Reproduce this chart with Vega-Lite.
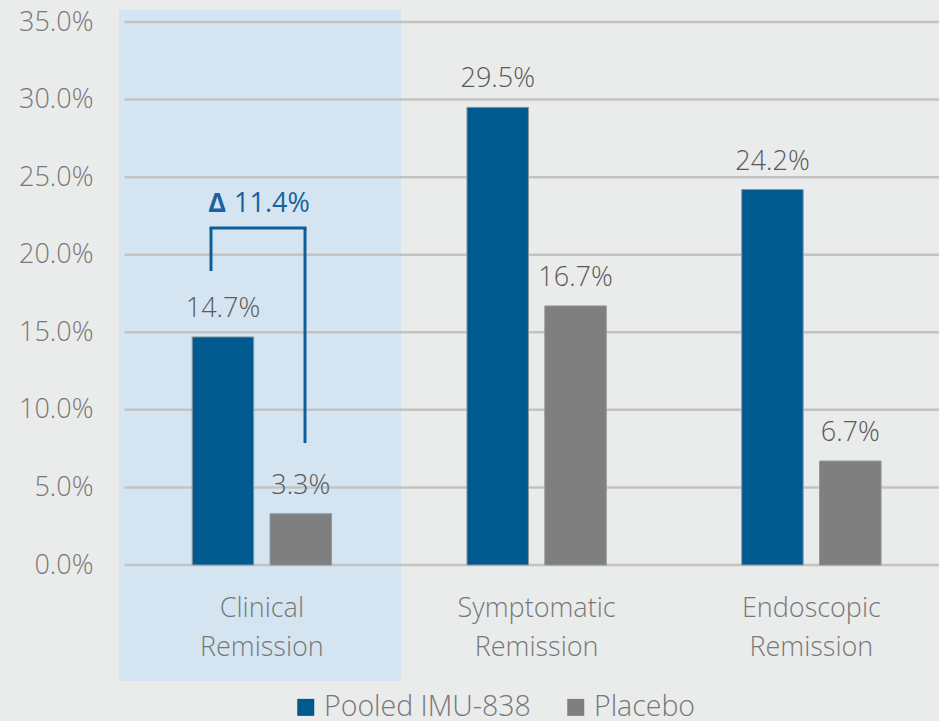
{
  "$schema": "https://vega.github.io/schema/vega-lite/v6.json",
  "width": 814.5,
  "height": 543,
  "autosize": {"type": "none"},
  "padding": {"left": 124.5, "top": 22, "right": 0, "bottom": 156},
  "background": "#eaebeb",
  "config": {"view": {"stroke": null}, "font": "Open Sans"},
  "datasets": {
    "bars": [
      {"category": "Clinical Remission", "group": "Pooled IMU-838", "value": 0.147},
      {"category": "Clinical Remission", "group": "Placebo", "value": 0.033},
      {"category": "Symptomatic Remission", "group": "Pooled IMU-838", "value": 0.295},
      {"category": "Symptomatic Remission", "group": "Placebo", "value": 0.167},
      {"category": "Endoscopic Remission", "group": "Pooled IMU-838", "value": 0.242},
      {"category": "Endoscopic Remission", "group": "Placebo", "value": 0.067}
    ],
    "grid": [
      {"value": 0}, {"value": 0.05}, {"value": 0.1}, {"value": 0.15},
      {"value": 0.2}, {"value": 0.25}, {"value": 0.3}, {"value": 0.35}
    ],
    "annot": [{"delta": "11.4%"}]
  },
  "layer": [
    {
      "data": {"name": "annot"},
      "mark": {"type": "rect", "color": "#d4e5f1", "clip": false},
      "encoding": {
        "x": {"datum": "Clinical Remission", "type": "nominal", "bandPosition": -0.02,
          "scale": {"domain": ["Clinical Remission", "Symptomatic Remission", "Endoscopic Remission"], "range": [0, 824.25], "paddingInner": 0, "paddingOuter": 0},
          "axis": {"orient": "bottom", "labelExpr": "split(datum.label, ' ')", "labelFontSize": 27, "labelLineHeight": 39, "labelPadding": 30, "labelFontWeight": 300, "labelColor": "#787878", "labelAngle": 0, "domain": false, "ticks": false, "grid": false, "title": null}},
        "x2": {"datum": "Clinical Remission", "bandPosition": 1.0064},
        "y": {"datum": 0.358, "type": "quantitative", "scale": {"domain": [0, 0.35], "nice": false, "zero": true}},
        "y2": {"datum": -0.0748}
      }
    },
    {
      "data": {"name": "grid"},
      "mark": {"type": "rule", "color": "#c3c3c3", "strokeWidth": 2.5},
      "encoding": {
        "y": {"field": "value", "type": "quantitative", "title": null}
      }
    },
    {
      "data": {"name": "bars"},
      "mark": {"type": "bar", "stroke": "#8e979e", "strokeWidth": 1},
      "encoding": {
        "x": {"field": "category", "type": "nominal", "title": null},
        "xOffset": {"field": "group", "type": "nominal", "scale": {"domain": ["Pooled IMU-838", "Placebo"], "paddingInner": 0.21, "paddingOuter": 0.87}},
        "y": {"field": "value", "type": "quantitative", "title": null,
          "axis": {"values": [0, 0.05, 0.1, 0.15, 0.2, 0.25, 0.3, 0.35], "format": ".1%", "grid": false, "domain": false, "ticks": false, "tickSize": 0, "labelPadding": 31.5, "labelFontSize": 27, "labelFontWeight": 300, "labelColor": "#787878", "title": null}},
        "color": {"field": "group", "type": "nominal",
          "scale": {"domain": ["Pooled IMU-838", "Placebo"], "range": ["#005a8f", "#7f7f7f"]},
          "legend": {"orient": "none", "legendX": 167, "legendY": 671, "direction": "horizontal", "title": null, "symbolType": "square", "symbolSize": 289, "symbolStrokeWidth": 0, "labelFontSize": 28.5, "labelFontWeight": 300, "labelColor": "#787878", "labelOffset": 4, "labelLimit": 0, "columnPadding": 30, "padding": 0}}
      }
    },
    {
      "data": {"name": "bars"},
      "mark": {"type": "text", "dy": -20, "baseline": "alphabetic", "fontSize": 27, "fontWeight": 300, "color": "#595959"},
      "encoding": {
        "x": {"field": "category", "type": "nominal"},
        "xOffset": {"field": "group", "type": "nominal"},
        "y": {"field": "value", "type": "quantitative"},
        "text": {"field": "value", "type": "quantitative", "format": ".1%"}
      }
    },
    {
      "data": {"name": "annot"},
      "mark": {"type": "rule", "color": "#0e5f97", "strokeWidth": 3},
      "encoding": {
        "x": {"datum": "Clinical Remission", "type": "nominal", "bandPosition": 0.3148},
        "y": {"datum": 0.2172, "type": "quantitative"},
        "y2": {"datum": 0.1895}
      }
    },
    {
      "data": {"name": "annot"},
      "mark": {"type": "rule", "color": "#0e5f97", "strokeWidth": 3},
      "encoding": {
        "x": {"datum": "Clinical Remission", "type": "nominal", "bandPosition": 0.657},
        "y": {"datum": 0.2172, "type": "quantitative"},
        "y2": {"datum": 0.0786}
      }
    },
    {
      "data": {"name": "annot"},
      "mark": {"type": "rule", "color": "#0e5f97", "strokeWidth": 3, "strokeCap": "square"},
      "encoding": {
        "x": {"datum": "Clinical Remission", "type": "nominal", "bandPosition": 0.3148},
        "x2": {"datum": "Clinical Remission", "bandPosition": 0.657},
        "y": {"datum": 0.2172, "type": "quantitative"}
      }
    },
    {
      "data": {"name": "annot"},
      "mark": {"type": "text", "align": "right", "dx": -4, "baseline": "alphabetic", "fontSize": 27, "fontWeight": "bold", "color": "#1862a0"},
      "encoding": {
        "x": {"datum": "Clinical Remission", "type": "nominal", "bandPosition": 0.384},
        "y": {"datum": 0.2275, "type": "quantitative"},
        "text": {"value": "Δ"}
      }
    },
    {
      "data": {"name": "annot"},
      "mark": {"type": "text", "align": "left", "dx": 4, "baseline": "alphabetic", "fontSize": 27, "fontWeight": "normal", "color": "#1862a0"},
      "encoding": {
        "x": {"datum": "Clinical Remission", "type": "nominal", "bandPosition": 0.384},
        "y": {"datum": 0.2275, "type": "quantitative"},
        "text": {"field": "delta", "type": "nominal"}
      }
    }
  ]
}
